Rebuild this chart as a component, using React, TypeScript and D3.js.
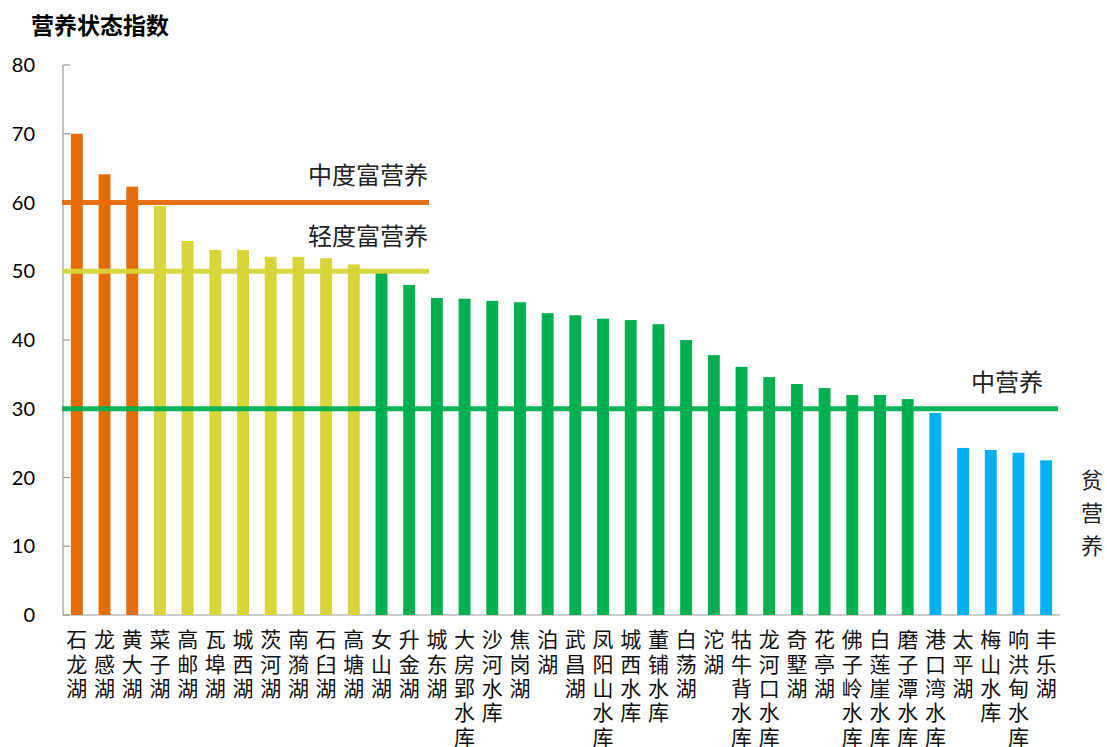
import React from "react";
import * as d3 from "d3";

const categories = [
  "石龙湖", "龙感湖", "黄大湖", "菜子湖", "高邮湖", "瓦埠湖", "城西湖", "茨河湖", "南漪湖", "石臼湖", "高塘湖",
  "女山湖", "升金湖", "城东湖", "大房郢水库", "沙河水库", "焦岗湖", "泊湖", "武昌湖", "凤阳山水库", "城西水库",
  "董铺水库", "白荡湖", "沱湖", "牯牛背水库", "龙河口水库", "奇墅湖", "花亭湖", "佛子岭水库", "白莲崖水库",
  "磨子潭水库", "港口湾水库", "太平湖", "梅山水库", "响洪甸水库", "丰乐湖",
];
const values = [
  70.0, 64.1, 62.3, 59.5, 54.4, 53.1, 53.1, 52.1, 52.1, 51.9, 51.0,
  49.9, 48.0, 46.1, 46.0, 45.7, 45.5, 43.9, 43.6, 43.1, 42.9,
  42.3, 40.0, 37.8, 36.1, 34.6, 33.6, 33.0, 32.0, 32.0,
  31.4, 29.4, 24.3, 24.0, 23.6, 22.5,
];
// trophic class of each lake: 0 中度富营养, 1 轻度富营养, 2 中营养, 3 贫营养
const classes = [
  0, 0, 0, 1, 1, 1, 1, 1, 1, 1, 1,
  2, 2, 2, 2, 2, 2, 2, 2, 2, 2,
  2, 2, 2, 2, 2, 2, 2, 2, 2,
  2, 3, 3, 3, 3, 3,
];
const classColors = ["#E46C0A", "#D8D53A", "#00B050", "#00B0F0"];
const yTicks = [0, 10, 20, 30, 40, 50, 60, 70, 80];
const thresholdNames = ["中度富营养", "轻度富营养", "中营养"];
const thresholdValues = [60, 50, 30];
const thresholdColors = ["#E46C0A", "#D8D53A", "#00B050"];
const poorLabel = "贫营养";
const yTitle = "营养状态指数";

export default function App() {
  const W = 1107, H = 747;
  const left = 63, right = 1060, top = 65, bottom = 615;
  const x = d3.scaleBand<string>().domain(categories).range([left, right]).paddingInner(0.57).paddingOuter(0.285);
  const y = d3.scaleLinear().domain([0, 80]).range([bottom, top]);
  const cjk = "'Noto Sans CJK SC', sans-serif";
  const num = "Lato, 'Liberation Sans', sans-serif";
  const lineEnds = [429, 429, 1058];
  const labelRight = [428, 428, 1043];
  const labelGap = [19, 26, 18];

  return (
    <svg width={W} height={H} style={{ position: "absolute", left: 0, top: 0, background: "#fff" }}>
      <text x={31} y={34} fontFamily={cjk} fontWeight={700} fontSize={23} fill="#000">{yTitle}</text>
      {/* axes */}
      <line x1={left} x2={left} y1={y(80)} y2={y(0)} stroke="#999" strokeWidth={1.2} />
      <line x1={left} x2={right} y1={y(0)} y2={y(0)} stroke="#999" strokeWidth={1.2} />
      {yTicks.map((t) => (
        <g key={t}>
          <line x1={left} x2={left + 7} y1={y(t)} y2={y(t)} stroke="#999" strokeWidth={1.2} />
          <text x={35} y={y(t)} dy="0.36em" textAnchor="end" fontFamily={num} fontSize={20} fill="#000">{t}</text>
        </g>
      ))}
      {/* bars */}
      {categories.map((c, i) => (
        <rect key={c} x={x(c)} y={y(values[i])} width={x.bandwidth()} height={y(0) - y(values[i])} fill={classColors[classes[i]]} />
      ))}
      {/* threshold lines */}
      {thresholdNames.map((n, k) => (
        <g key={n}>
          <line x1={left - 1} x2={lineEnds[k]} y1={y(thresholdValues[k])} y2={y(thresholdValues[k])} stroke={thresholdColors[k]} strokeWidth={5} strokeOpacity={0.95} />
          <text x={labelRight[k]} y={y(thresholdValues[k]) - labelGap[k]} textAnchor="end" fontFamily={cjk} fontSize={24} fill="#222">{n}</text>
        </g>
      ))}
      {/* 贫营养 vertical label */}
      {Array.from(poorLabel).map((ch, i) => (
        <text key={i} x={1092} y={480 + i * 33} dy="0.36em" textAnchor="middle" fontFamily={cjk} fontSize={22} fill="#222">{ch}</text>
      ))}
      {/* x labels, stacked vertically */}
      {categories.map((c) => (
        <g key={c}>
          {Array.from(c).map((ch, j) => (
            <text key={j} x={(x(c) as number) + x.bandwidth() / 2} y={640 + j * 24.3} dy="0.35em" textAnchor="middle" fontFamily={cjk} fontSize={21} fill="#111">{ch}</text>
          ))}
        </g>
      ))}
    </svg>
  );
}
